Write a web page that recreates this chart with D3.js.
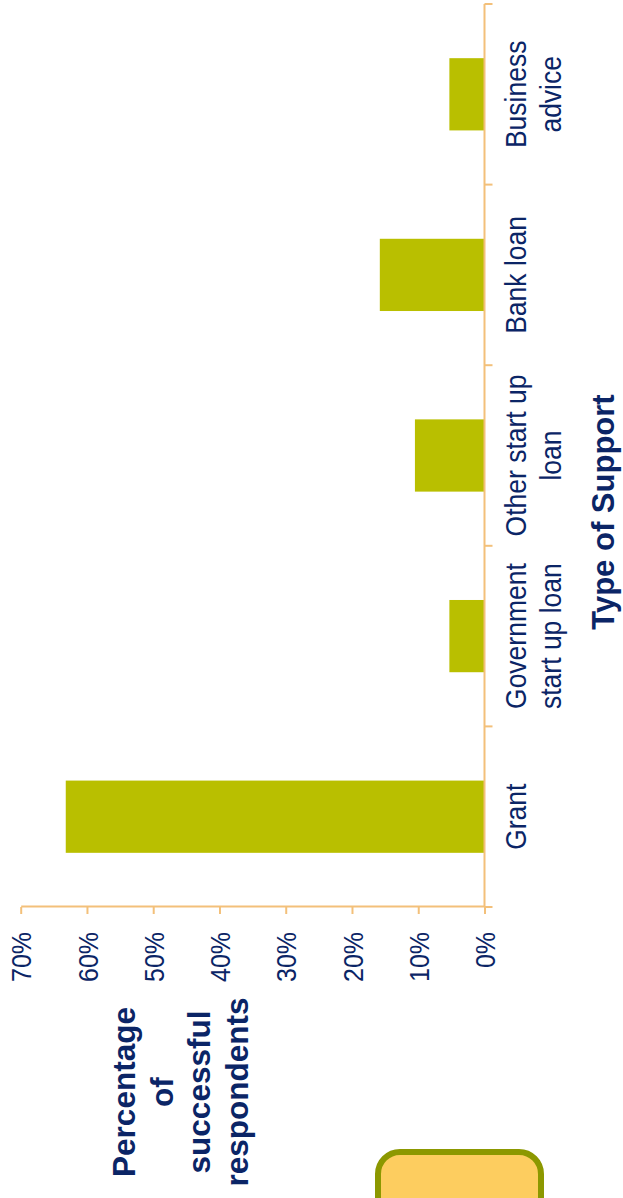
<!DOCTYPE html>
<html>
<head>
<meta charset="utf-8">
<script src="https://cdn.jsdelivr.net/npm/d3@7"></script>
<style>
  html, body { margin: 0; padding: 0; background: #ffffff; }
  svg { display: block; }
  text { font-family: "Liberation Sans", Arial, Helvetica, sans-serif; }
</style>
</head>
<body>
<svg id="chart" width="623" height="1198"></svg>
<script>
// Share of successful respondents by type of support received
const categories = ["Grant", "Government start up loan", "Other start up loan", "Bank loan", "Business advice"];
const categoryLines = [["Grant"], ["Government", "start up loan"], ["Other start up", "loan"], ["Bank loan"], ["Business", "advice"]];
const shares = [0.632, 0.053, 0.105, 0.158, 0.053];
const valueTicks = [0, 0.1, 0.2, 0.3, 0.4, 0.5, 0.6, 0.7];
const valueTitle = ["Percentage", "of", "successful", "respondents"];
const categoryTitle = "Type of Support";

const W = 623, H = 1198;
const navy = "#0b2566";
const axisColor = "#f3c07a";
const barColor = "#b9bf00";
const labelStretch = 1.12;   // regular labels are set slightly tall

const svg = d3.select("#chart");

// The chart is laid out in its own frame and turned a quarter turn anticlockwise.
const g = svg.append("g").attr("transform", `translate(0,${H}) rotate(-90)`);

const x = d3.scaleBand()
  .domain(categories)
  .range([291, 1194])
  .paddingInner(0.6)
  .paddingOuter(0.3);

const y = d3.scaleLinear()
  .domain([0, 0.7])
  .range([484.5, 20.7]);

// bars
g.append("g")
  .selectAll("rect")
  .data(categories)
  .join("rect")
  .attr("x", d => x(d))
  .attr("width", x.bandwidth())
  .attr("y", (d, i) => y(shares[i]))
  .attr("height", (d, i) => y(0) - y(shares[i]))
  .attr("fill", barColor);

// value axis
const yAxis = g.append("g")
  .attr("transform", `translate(${x.range()[0]},0)`)
  .call(d3.axisLeft(y)
    .tickValues(valueTicks)
    .tickFormat(d3.format(".0%"))
    .tickSize(7)
    .tickSizeOuter(0)
    .tickPadding(18));
yAxis.select(".domain").attr("stroke", axisColor).attr("stroke-width", 2);
yAxis.selectAll(".tick line").attr("stroke", axisColor).attr("stroke-width", 2);
yAxis.selectAll(".tick text")
  .attr("fill", navy)
  .style("font-size", "25px")
  .attr("dy", "0.36em")
  .attr("transform", `scale(1,${labelStretch})`);

// category axis with ticks between the bands
const step = x.step();
const start = x(categories[0]) - step * x.paddingInner() / 2;
const bounds = d3.range(categories.length + 1).map(i => start + i * step);
const xAxis = g.append("g").attr("transform", `translate(0,${y(0)})`);
xAxis.append("line")
  .attr("x1", bounds[0]).attr("x2", bounds[bounds.length - 1])
  .attr("stroke", axisColor).attr("stroke-width", 2);
xAxis.selectAll("line.tick")
  .data(bounds)
  .join("line")
  .attr("class", "tick")
  .attr("x1", d => d).attr("x2", d => d)
  .attr("y1", 0).attr("y2", 8)
  .attr("stroke", axisColor).attr("stroke-width", 2);

const catText = xAxis.selectAll("text.cat")
  .data(categories)
  .join("text")
  .attr("class", "cat")
  .attr("text-anchor", "middle")
  .attr("fill", navy)
  .style("font-size", "26.5px")
  .attr("transform", d => `translate(${x(d) + x.bandwidth() / 2},41.5) scale(1,${labelStretch})`);
catText.selectAll("tspan")
  .data((d, i) => categoryLines[i])
  .join("tspan")
  .attr("x", 0)
  .attr("y", (d, i) => i * 35 / labelStretch)
  .text(d => d);

// axis titles
g.append("text")
  .attr("x", 686)
  .attr("y", 614)
  .attr("text-anchor", "middle")
  .attr("fill", navy)
  .style("font-size", "31px")
  .style("font-weight", "bold")
  .text(categoryTitle);

g.append("text")
  .attr("text-anchor", "middle")
  .attr("fill", navy)
  .style("font-size", "31.5px")
  .style("font-weight", "bold")
  .selectAll("tspan")
  .data(valueTitle)
  .join("tspan")
  .attr("x", 106)
  .attr("y", (d, i) => 135 + i * 37.7)
  .text(d => d);

// rounded note box at the foot of the page
svg.append("rect")
  .attr("x", 378)
  .attr("y", 1152)
  .attr("width", 163)
  .attr("height", 90)
  .attr("rx", 22)
  .attr("fill", "#fdcd5f")
  .attr("stroke", "#8c9800")
  .attr("stroke-width", 6);
</script>
</body>
</html>
